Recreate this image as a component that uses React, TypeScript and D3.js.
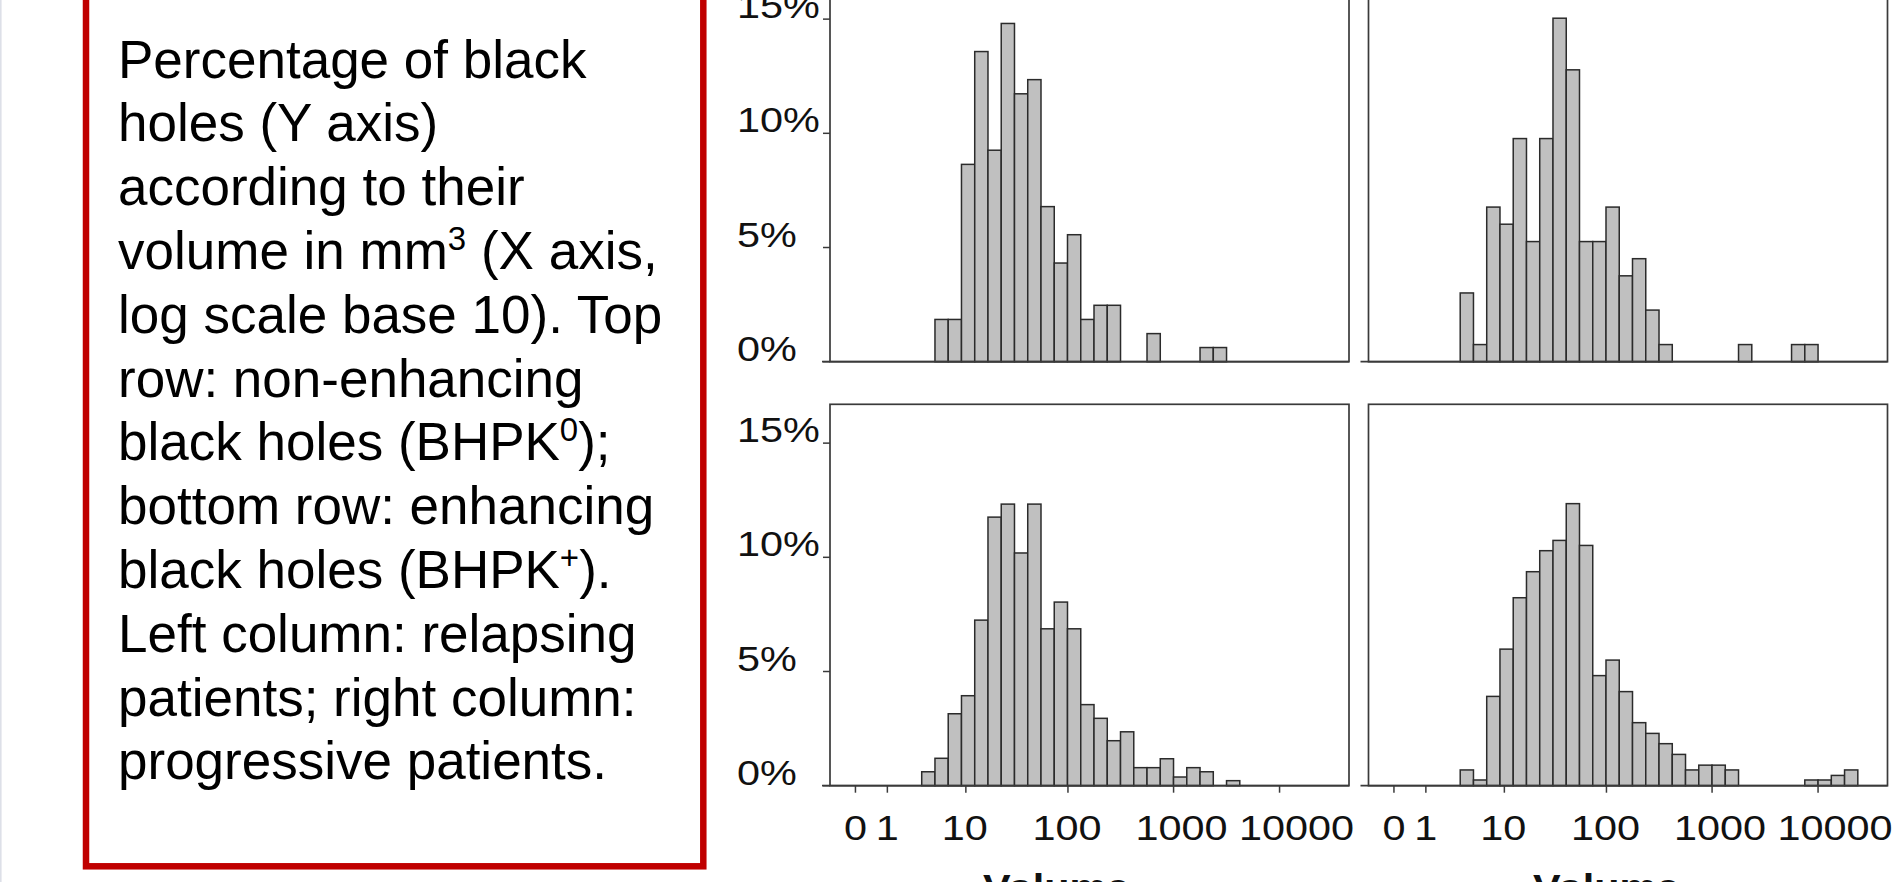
import React from 'react';
import * as d3 from 'd3';

// ---------- data (percent of black holes per bin of log10(volume + 1)) ----------
const BIN_WIDTH = 0.125; // width of one histogram bin, in log10(volume+1) units

// top-left: non-enhancing (BHPK0), relapsing patients
const relapsingNonEnhStart = 6;
const relapsingNonEnh = [1.85, 1.85, 8.64, 13.58, 9.26, 14.81, 11.73, 12.35, 6.79, 4.32, 5.56, 1.85, 2.47, 2.47, 0, 0, 1.23, 0, 0, 0, 0.62, 0.62];

// top-right: non-enhancing (BHPK0), progressive patients
const progressiveNonEnhStart = 5;
const progressiveNonEnh = [3.01, 0.75, 6.77, 6.02, 9.77, 5.26, 9.77, 15.04, 12.78, 5.26, 5.26, 6.77, 3.76, 4.51, 2.26, 0.75, 0, 0, 0, 0, 0, 0.75, 0, 0, 0, 0.75, 0.75];

// bottom-left: enhancing (BHPK+), relapsing patients
const relapsingEnhStart = 5;
const relapsingEnh = [0.61, 1.2, 3.15, 3.94, 7.25, 11.76, 12.33, 10.19, 12.33, 6.87, 8.04, 6.87, 3.55, 2.95, 1.97, 2.36, 0.79, 0.79, 1.18, 0.38, 0.79, 0.61, 0, 0.22];

// bottom-right: enhancing (BHPK+), progressive patients
const progressiveEnhStart = 5;
const progressiveEnh = [0.69, 0.25, 3.91, 5.98, 8.23, 9.37, 10.29, 10.74, 12.35, 10.52, 4.82, 5.5, 4.12, 2.76, 2.29, 1.84, 1.37, 0.69, 0.9, 0.9, 0.69, 0, 0, 0, 0, 0, 0.25, 0.25, 0.45, 0.69];

const xTickValues = [0, 1, 10, 100, 1000, 10000];
const xTickLabels = ['0', '1', '10', '100', '1000', '10000'];
const yTickValues = [0, 5, 10, 15];
const yTickLabels = ['0%', '5%', '10%', '15%'];
const xTitle = 'Volume';

const captionLines = [
  'Percentage of black',
  'holes (Y axis)',
  'according to their',
  'volume in mm^3 (X axis,',
  'log scale base 10). Top',
  'row: non-enhancing',
  'black holes (BHPK^0);',
  'bottom row: enhancing',
  'black holes (BHPK^+).',
  'Left column: relapsing',
  'patients; right column:',
  'progressive patients.',
];

// ---------- layout ----------
const W = 1895;
const H = 882;
const FONT = "'Liberation Sans', Arial, Helvetica, sans-serif";
const tr = (v: number) => Math.log10(v + 1);

const columns = [
  { left: 830, right: 1349, titleX: 983 },
  { left: 1368.5, right: 1887.5, titleX: 1533 },
];
const rows = [{ base: 361.7 }, { base: 785.7 }];
const PANEL_H = 381.4;
const Y_MAX = 16.7;
const X_DOMAIN: [number, number] = [-0.24, 4.655];
const TICK_FONT = 36;
const TICK_STRETCH = 1.15;
const xLabelNudge = [0, 0, -1, -1, 8, 17]; // label placement relative to tick (style)

const panels = [
  { row: 0, col: 0, start: relapsingNonEnhStart, values: relapsingNonEnh },
  { row: 0, col: 1, start: progressiveNonEnhStart, values: progressiveNonEnh },
  { row: 1, col: 0, start: relapsingEnhStart, values: relapsingEnh },
  { row: 1, col: 1, start: progressiveEnhStart, values: progressiveEnh },
];

const AXIS = '#3a3a3a';

function Panel({ row, col, start, values }: { row: number; col: number; start: number; values: number[] }) {
  const c = columns[col];
  const r = rows[row];
  const x = d3.scaleLinear().domain(X_DOMAIN).range([c.left, c.right]);
  const y = d3.scaleLinear().domain([0, Y_MAX]).range([r.base, r.base - PANEL_H]);
  const bins = values
    .map((v, k) => ({ i: start + k, v }))
    .filter((b) => b.v > 0);
  const showY = col === 0;
  const showX = row === 1;
  return (
    <g>
      {bins.map((b) => {
        const x0 = x(b.i * BIN_WIDTH);
        const x1 = x((b.i + 1) * BIN_WIDTH);
        return (
          <rect
            key={b.i}
            x={x0}
            y={y(b.v)}
            width={x1 - x0}
            height={y(0) - y(b.v)}
            fill="#c0c0c0"
            stroke="#2b2b2b"
            strokeWidth={1.5}
          />
        );
      })}
      <rect
        x={x(X_DOMAIN[0])}
        y={y(Y_MAX)}
        width={x(X_DOMAIN[1]) - x(X_DOMAIN[0])}
        height={y(0) - y(Y_MAX)}
        fill="none"
        stroke={AXIS}
        strokeWidth={1.7}
      />
      <line x1={x(X_DOMAIN[0]) - 8} x2={x(X_DOMAIN[1])} y1={y(0)} y2={y(0)} stroke={AXIS} strokeWidth={1.8} />
      {showY &&
        yTickValues.map((t, k) => (
          <g key={t}>
            <line x1={x(X_DOMAIN[0]) - 7} x2={x(X_DOMAIN[0])} y1={y(t)} y2={y(t)} stroke={AXIS} strokeWidth={1.5} />
            <text
              transform={`translate(737,${y(t) - 1}) scale(${TICK_STRETCH},1)`}
              fontSize={TICK_FONT}
              fontFamily={FONT}
              fill="#111"
            >
              {yTickLabels[k]}
            </text>
          </g>
        ))}
      {showX &&
        xTickValues.map((t, k) => (
          <g key={t}>
            <line x1={x(tr(t))} x2={x(tr(t))} y1={y(0)} y2={y(0) + 7} stroke={AXIS} strokeWidth={1.5} />
            <text
              transform={`translate(${x(tr(t)) + xLabelNudge[k]},${y(0) + 54.5}) scale(${TICK_STRETCH},1)`}
              fontSize={TICK_FONT}
              textAnchor="middle"
              fontFamily={FONT}
              fill="#111"
            >
              {xTickLabels[k]}
            </text>
          </g>
        ))}
      {showX && (
        <text
          transform={`translate(${c.titleX},${y(0) + 113}) scale(${TICK_STRETCH},1)`}
          fontSize={TICK_FONT}
          fontWeight="bold"
          fontFamily={FONT}
          fill="#111"
        >
          {xTitle}
        </text>
      )}
    </g>
  );
}

function CaptionLine({ text, y }: { text: string; y: number }) {
  const parts: { t: string; sup: boolean }[] = [];
  let buf = '';
  for (let i = 0; i < text.length; i++) {
    if (text[i] === '^') {
      if (buf) parts.push({ t: buf, sup: false });
      buf = '';
      parts.push({ t: text[i + 1], sup: true });
      i++;
    } else buf += text[i];
  }
  if (buf) parts.push({ t: buf, sup: false });
  let prevSup = false;
  return (
    <text x={118} y={y} fontSize={53} fontFamily={FONT} fill="#000">
      {parts.map((p, k) => {
        const dy = p.sup ? -19 : prevSup ? 19 : 0;
        prevSup = p.sup;
        return (
          <tspan key={k} dy={dy} fontSize={p.sup ? 33 : 53}>
            {p.t}
          </tspan>
        );
      })}
    </text>
  );
}

export default function App() {
  return (
    <svg
      width={W}
      height={H}
      viewBox={`0 0 ${W} ${H}`}
      style={{ position: 'absolute', left: 0, top: 0, background: '#fff' }}
    >
      <rect x={0} y={0} width={W} height={H} fill="#fff" />
      <line x1={0.8} x2={0.8} y1={0} y2={H} stroke="#dde0e8" strokeWidth={1.6} />
      <rect x={86} y={-20} width={703.3 - 86} height={866.3 + 20} fill="none" stroke="#c00000" strokeWidth={6.5} />
      {captionLines.map((l, i) => (
        <CaptionLine key={i} text={l} y={77.5 + i * 63.8} />
      ))}
      {panels.map((p, i) => (
        <Panel key={i} {...p} />
      ))}
    </svg>
  );
}
